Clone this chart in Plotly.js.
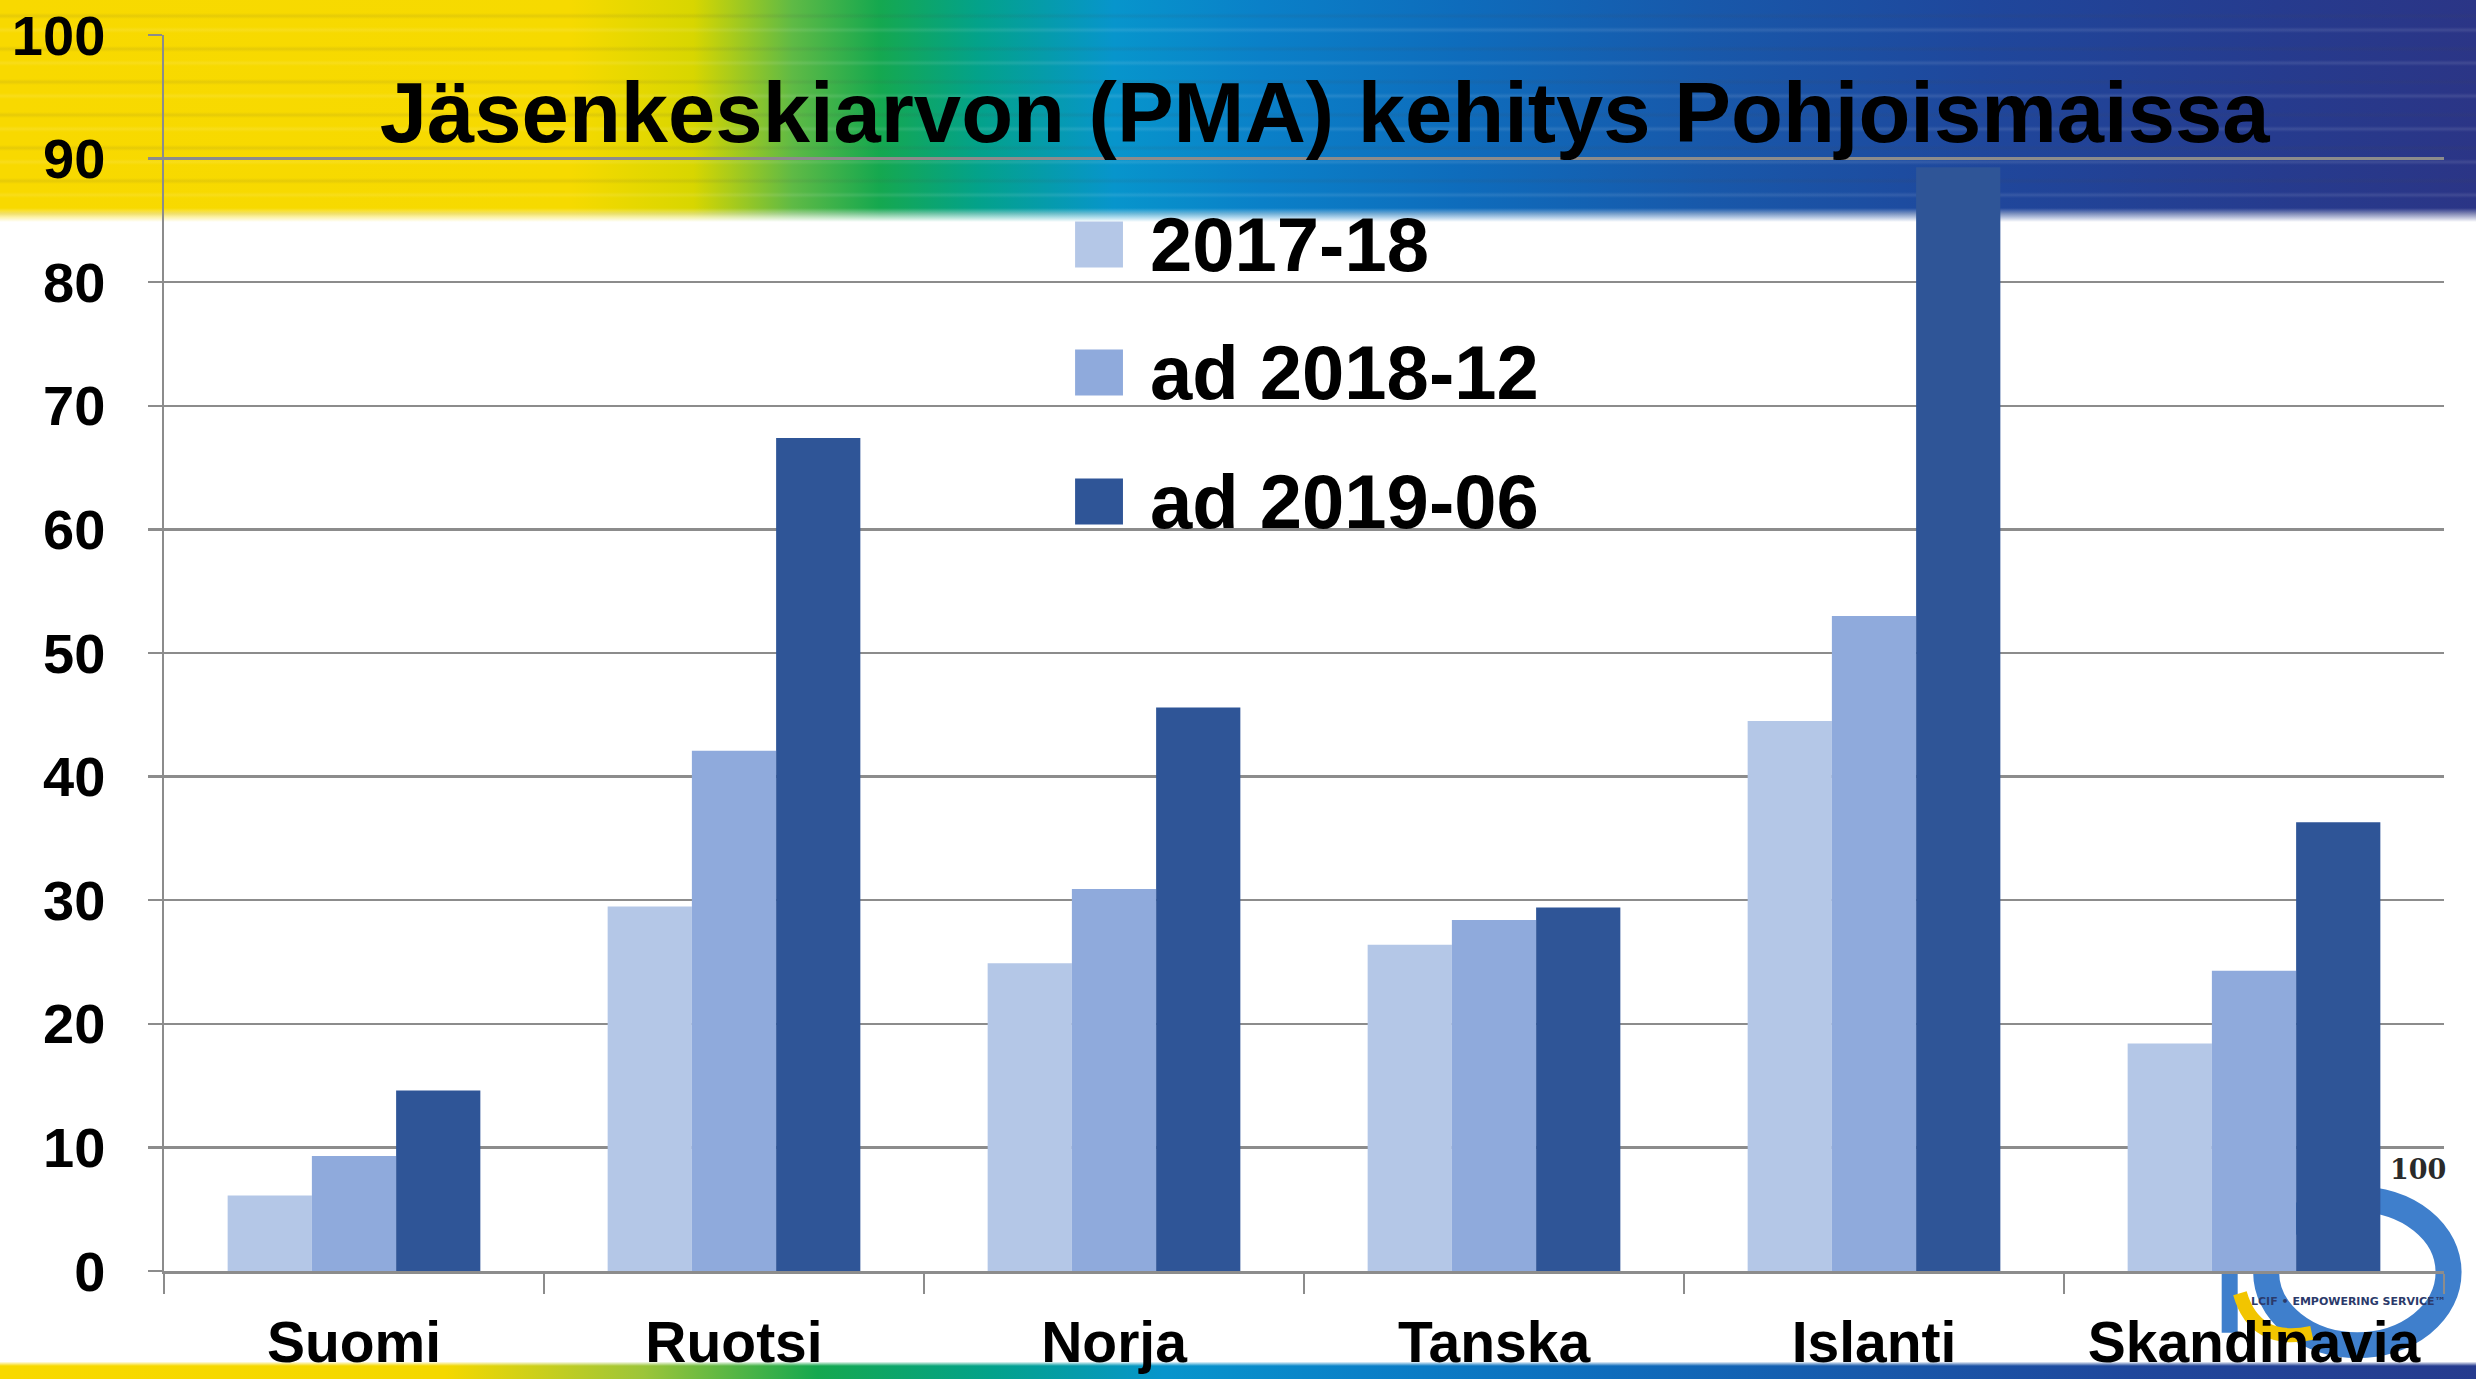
<!DOCTYPE html>
<html>
<head>
<meta charset="utf-8">
<script src="https://cdn.plot.ly/plotly-3.0.1.min.js"></script>
<style>
html,body{margin:0;padding:0;background:#fff;}
#wrap{position:relative;width:2476px;height:1379px;overflow:hidden;background:#fff;}
#bannerTop{position:absolute;left:0;top:0;width:2476px;height:222px;
  background:
    linear-gradient(180deg, rgba(255,255,255,0) 0px, rgba(255,255,255,0) 208px, rgba(255,255,255,1) 222px),
    repeating-linear-gradient(180deg, rgba(0,0,0,0) 0px, rgba(0,0,0,0) 13px, rgba(70,70,70,0.10) 16px, rgba(0,0,0,0) 19px, rgba(0,0,0,0) 27px, rgba(255,255,255,0.10) 30px, rgba(0,0,0,0) 33px),
    linear-gradient(90deg, #f8d900 0%, #f6da00 23%, #d8d600 28%, #5fba45 32%, #15a84f 35.5%, #03a28a 39.5%, #0795cc 45%, #0a80c8 51%, #0e6cbc 59%, #1858aa 69%, #1f479c 80%, #263b8e 92%, #2b3586 100%);
}
#bannerBot{position:absolute;left:0;top:1362px;width:2476px;height:17px;
  background:
    linear-gradient(180deg, rgba(255,255,255,0.9) 0px, rgba(255,255,255,0) 4px),
    linear-gradient(90deg, #f8d900 0%, #f4d800 18%, #9cc53a 26%, #15a84f 33%, #03a28a 40%, #0795cc 47%, #0a80c8 55%, #0e6cbc 65%, #1858aa 76%, #1f479c 86%, #263b8e 100%);
}
#chart{position:absolute;left:0;top:0;width:2476px;height:1379px;}
</style>
</head>
<body>
<div id="wrap">
  <div id="bannerTop"></div>
  <div id="bannerBot"></div>
  <div id="chart"></div>
</div>
<script>
// ---- data ----
const categories = ['Suomi', 'Ruotsi', 'Norja', 'Tanska', 'Islanti', 'Skandinavia'];
const seriesNames = ['2017-18', 'ad 2018-12', 'ad 2019-06'];
const values2017_18  = [6.1, 29.5, 24.9, 26.4, 44.5, 18.4];
const valuesAd2018_12 = [9.3, 42.1, 30.9, 28.4, 53.0, 24.3];
const valuesAd2019_06 = [14.6, 67.4, 45.6, 29.4, 89.3, 36.3];
const seriesColors = ['#b4c7e7', '#8faadc', '#2f5597'];
const yTickValues = [0, 10, 20, 30, 40, 50, 60, 70, 80, 90, 100];
const chartTitle = 'Jäsenkeskiarvon (PMA) kehitys Pohjoismaissa';

const seriesValues = [values2017_18, valuesAd2018_12, valuesAd2019_06];

const FONT = '"Liberation Sans Narrow", "Liberation Sans", Arial, sans-serif';
const GRID = '#8c8c8c';

const traces = seriesNames.map((name, i) => ({
  type: 'bar',
  name: name,
  x: categories,
  y: seriesValues[i],
  marker: {color: seriesColors[i], line: {width: 0}},
  showlegend: false,
  hovertemplate: '%{x}: %{y}<extra>' + name + '</extra>'
}));

// manual legend (large square symbols, as in the reference)
const legendX0 = 0.3996, legendX1 = 0.4206, legendTextX = 0.4316;
const legendYs = [0.8305, 0.7270, 0.6225];
const legendHalf = 0.0186;
const shapes = [];
const annotations = [];
seriesNames.forEach((name, i) => {
  shapes.push({type: 'rect', xref: 'paper', yref: 'paper',
    x0: legendX0, x1: legendX1, y0: legendYs[i] - legendHalf, y1: legendYs[i] + legendHalf,
    fillcolor: seriesColors[i], line: {width: 0}, layer: 'above'});
  annotations.push({xref: 'paper', yref: 'paper', x: legendTextX, y: legendYs[i],
    xanchor: 'left', yanchor: 'middle', showarrow: false, text: name,
    font: {family: FONT, size: 76, color: '#000', weight: 'bold'}});
});

// LCIF 100 logo (decoration, behind bars)
shapes.push({type: 'circle', xref: 'paper', yref: 'paper', x0: 0.922, x1: 1.002, y0: -0.060, y1: 0.058,
  line: {color: '#3f7fcc', width: 26}, fillcolor: 'rgba(0,0,0,0)', layer: 'below'});
shapes.push({type: 'line', xref: 'paper', yref: 'paper', x0: 0.9060, x1: 0.9060, y0: 0.012, y1: -0.050,
  line: {color: '#3f7fcc', width: 16}, layer: 'below'});
shapes.push({type: 'path', xref: 'paper', yref: 'paper', path: 'M 0.9105,-0.018 Q 0.917,-0.060 0.942,-0.050',
  line: {color: '#f2c500', width: 14}, layer: 'below'});
annotations.push({xref: 'paper', yref: 'paper', x: 0.9886, y: 0.082, xanchor: 'center', yanchor: 'middle',
  showarrow: false, text: '100', font: {family: '"DejaVu Serif", serif', size: 27, color: '#2a2a2a', weight: 'bold'}});
annotations.push({xref: 'paper', yref: 'paper', x: 0.958, y: -0.025, xanchor: 'center', yanchor: 'middle',
  showarrow: false, text: 'LCIF • EMPOWERING SERVICE™', font: {family: '"DejaVu Sans", sans-serif', size: 11, color: '#2b3a6a', weight: 'bold'}});

const layout = {
  width: 2476, height: 1379,
  margin: {l: 164, r: 32, t: 35, b: 108, pad: 0},
  paper_bgcolor: 'rgba(0,0,0,0)',
  plot_bgcolor: 'rgba(0,0,0,0)',
  barmode: 'group', bargap: 0.335, bargroupgap: 0,
  showlegend: false,
  title: {
    text: chartTitle,
    font: {family: FONT, size: 85, color: '#000', weight: 'bold'},
    xref: 'container', yref: 'container',
    x: 0.535, xanchor: 'center', y: 1 - 112/1379, yanchor: 'middle'
  },
  xaxis: {
    type: 'category', tickson: 'boundaries', tickangle: 0, automargin: false,
    ticks: 'outside', ticklen: 20, tickwidth: 2.5, tickcolor: GRID,
    showline: true, linecolor: GRID, linewidth: 3,
    showgrid: false, zeroline: false,
    ticklabelstandoff: 20,
    tickfont: {family: FONT, size: 57, color: '#000', weight: 'bold'}
  },
  yaxis: {
    range: [0, 100], tickmode: 'array', tickvals: yTickValues, automargin: false,
    ticks: 'outside', ticklen: 14, tickwidth: 2.5, tickcolor: GRID,
    showline: true, linecolor: GRID, linewidth: 2.5,
    showgrid: true, gridcolor: GRID, gridwidth: 2.5, zeroline: false,
    ticklabelstandoff: 31,
    tickfont: {family: FONT, size: 56, color: '#000', weight: 'bold'}
  },
  shapes: shapes,
  annotations: annotations
};

Plotly.newPlot('chart', traces, layout, {displayModeBar: false, staticPlot: true});
</script>
</body>
</html>
